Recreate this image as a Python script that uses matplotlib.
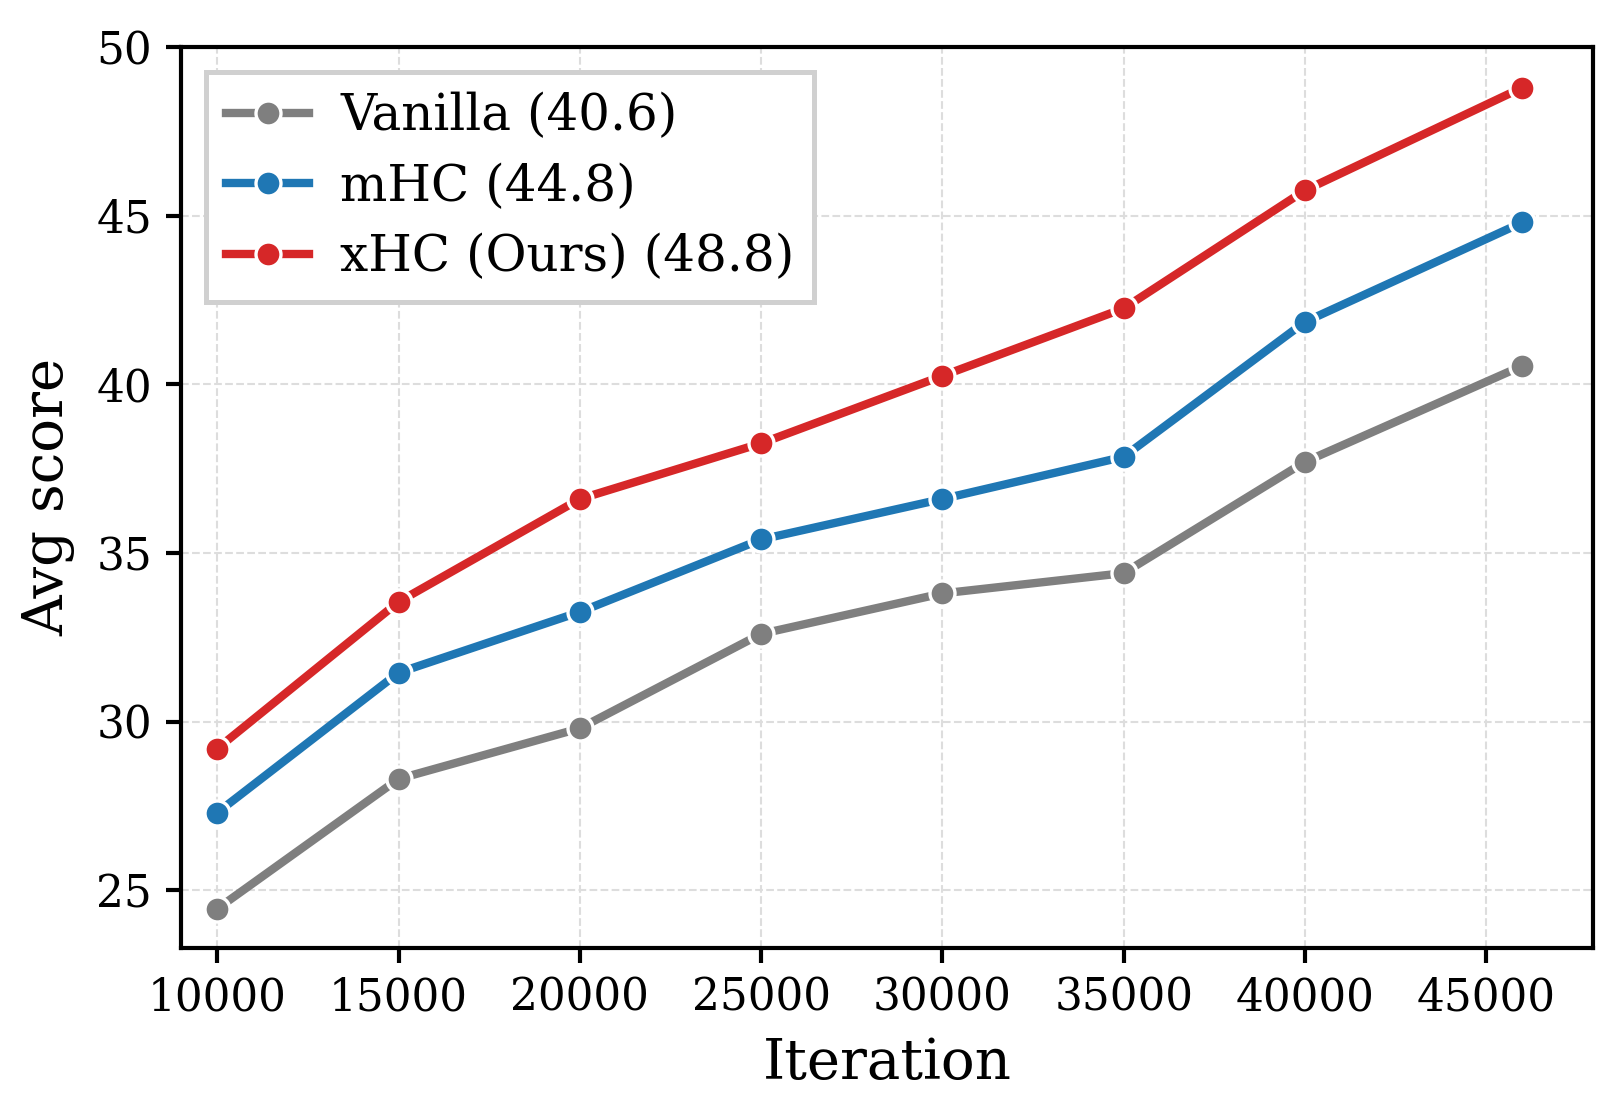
import matplotlib
matplotlib.use("Agg")
import matplotlib.pyplot as plt

plt.rcParams['font.family'] = ['DejaVu Serif']

iterations = [10000, 15000, 20000, 25000, 30000, 35000, 40000, 46000]
vanilla = [24.45, 28.3, 29.8, 32.6, 33.8, 34.4, 37.7, 40.55]
mhc = [27.3, 31.45, 33.25, 35.4, 36.6, 37.85, 41.85, 44.8]
xhc = [29.2, 33.55, 36.6, 38.25, 40.25, 42.25, 45.75, 48.8]

series = [
    ("Vanilla (40.6)", vanilla, "#7f7f7f"),
    ("mHC (44.8)", mhc, "#1f77b4"),
    ("xHC (Ours) (48.8)", xhc, "#d62728"),
]

fig, ax = plt.subplots(figsize=(1624 / 300, 1120 / 300), dpi=300)
fig.subplots_adjust(left=0.1115, right=0.981, top=0.958, bottom=0.154)

for label, vals, color in series:
    ax.plot(iterations, vals, color=color, linewidth=2, marker='o',
            markersize=6, markeredgecolor='white', markeredgewidth=0.8,
            label=label)

ax.set_xlim(9000, 47950)
ax.set_ylim(23.3, 50)
ax.set_xticks([10000, 15000, 20000, 25000, 30000, 35000, 40000, 45000])
ax.set_yticks([25, 30, 35, 40, 45, 50])
ax.tick_params(labelsize=10.5, width=1, length=3.5)
for s in ax.spines.values():
    s.set_linewidth(1)

ax.grid(True, linestyle='--', color='#dddddd', linewidth=0.5)
ax.set_axisbelow(True)

ax.set_xlabel("Iteration", fontsize=13.5)
ax.set_ylabel("Avg score", fontsize=13.5, labelpad=5)

leg = ax.legend(loc='upper left', fontsize=12, fancybox=False,
                edgecolor='#d0d0d0', framealpha=1, handlelength=1.66,
                handletextpad=0.62, labelspacing=0.42)
leg.get_frame().set_linewidth(1.2)

fig.savefig("out.png", dpi=300)
